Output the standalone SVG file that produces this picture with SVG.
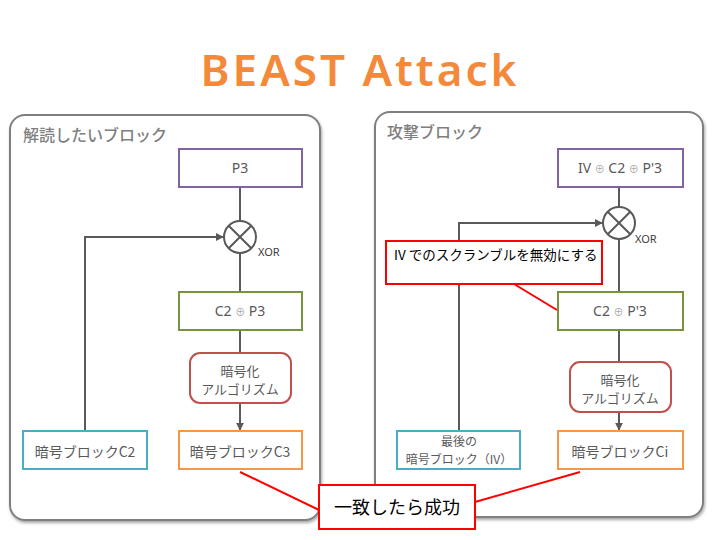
<svg xmlns="http://www.w3.org/2000/svg" width="720" height="540" viewBox="0 0 720 540">
<defs>
<filter id="sh" x="-5%" y="-5%" width="110%" height="110%">
<feDropShadow dx="1" dy="2" stdDeviation="1.5" flood-color="#000" flood-opacity="0.35"/>
</filter>
<marker id="ar" viewBox="0 0 10 10" refX="9" refY="5" markerWidth="4" markerHeight="4" orient="auto">
<path d="M0,0 L10,5 L0,10 z" fill="#595959"/>
</marker>
</defs>
<style>
.panel{fill:#fff;stroke:#7f7f7f;stroke-width:2}
.ptitle{font-family:"Noto Sans CJK JP",sans-serif;font-size:16px;fill:#7f7f7f;font-weight:500}
.box{fill:#fff;stroke-width:2}
.t{font-family:"Noto Sans","Noto Sans CJK JP",sans-serif;font-size:14px;fill:#595959;text-anchor:middle}
.tj{font-family:"Noto Sans CJK JP",sans-serif;font-size:14px;fill:#595959;text-anchor:middle}
.tj2{font-family:"Noto Sans CJK JP",sans-serif;font-size:13px;fill:#595959;text-anchor:middle}
.tj3{font-family:"Noto Sans CJK JP",sans-serif;font-size:12px;fill:#595959;text-anchor:middle}
.op{font-size:10px;fill:#a6a6a6}
.ln{stroke:#595959;stroke-width:2;fill:none}
.red{stroke:#ff0000;stroke-width:2;fill:none}
.xor{font-family:"Noto Sans",sans-serif;font-size:11px;fill:#404040}
</style>
<text x="360" y="86" text-anchor="middle" font-family="Noto Sans, sans-serif" font-weight="600" font-size="44" letter-spacing="3" fill="#f4893a">BEAST Attack</text>

<g id="panel-left">
<rect class="panel" x="10" y="115" width="310" height="405" rx="15" filter="url(#sh)"/>
<text class="ptitle" x="23" y="141">解読したいブロック</text>
</g>
<g id="panel-right">
<rect class="panel" x="375" y="112" width="328" height="405" rx="15" filter="url(#sh)"/>
<text class="ptitle" x="387" y="138">攻撃ブロック</text>
</g>

<g id="connectors">
<line class="ln" x1="240" y1="187" x2="240" y2="221"/>
<line class="ln" x1="240" y1="253" x2="240" y2="291"/>
<line class="ln" x1="240" y1="330" x2="240" y2="353"/>
<line class="ln" x1="240" y1="403" x2="240" y2="430" marker-end="url(#ar)"/>
<polyline class="ln" points="85,431 85,237 223,237" marker-end="url(#ar)"/>
<line class="ln" x1="619" y1="187" x2="619" y2="207"/>
<line class="ln" x1="619" y1="239" x2="619" y2="292"/>
<line class="ln" x1="619" y1="330" x2="619" y2="362"/>
<line class="ln" x1="619" y1="412" x2="619" y2="430" marker-end="url(#ar)"/>
<polyline class="ln" points="459,431 459,223 602,223" marker-end="url(#ar)"/>
<line class="red" x1="240" y1="472" x2="319" y2="510"/>
<line class="red" x1="580" y1="472" x2="475" y2="502"/>
<line class="red" x1="514" y1="284" x2="557" y2="310"/>
</g>

<g id="xor-left">
<circle cx="240" cy="237" r="16" fill="#fff" stroke="#595959" stroke-width="2"/>
<path d="M228.7,225.7 L251.3,248.3 M251.3,225.7 L228.7,248.3" stroke="#595959" stroke-width="2"/>
<text class="xor" x="258" y="256">XOR</text>
</g>
<g id="xor-right">
<circle cx="619" cy="223" r="16" fill="#fff" stroke="#595959" stroke-width="2"/>
<path d="M607.7,211.7 L630.3,234.3 M630.3,211.7 L607.7,234.3" stroke="#595959" stroke-width="2"/>
<text class="xor" x="635" y="243">XOR</text>
</g>

<g id="p3">
<rect class="box" x="179" y="149" width="123" height="38" stroke="#8064a2"/>
<text class="t" x="240" y="173">P3</text>
</g>
<g id="c2xp3">
<rect class="box" x="179" y="292" width="123" height="38" stroke="#77933c"/>
<text class="t" x="240" y="316">C2 <tspan class="op">⊕</tspan> P3</text>
</g>
<g id="enc-left">
<rect class="box" x="190" y="353" width="101" height="50" rx="10" stroke="#c0504d"/>
<text class="tj2" x="240" y="376">暗号化</text>
<text class="tj2" x="240" y="394">アルゴリズム</text>
</g>
<g id="c3">
<rect class="box" x="179" y="431" width="123" height="38" stroke="#f79646"/>
<text class="tj" x="240" y="457">暗号ブロックC3</text>
</g>
<g id="c2">
<rect class="box" x="23" y="431" width="124" height="38" stroke="#4bacc6"/>
<text class="tj" x="85" y="457">暗号ブロックC2</text>
</g>

<g id="ivc2p3">
<rect class="box" x="558" y="149" width="125" height="38" stroke="#8064a2"/>
<text class="t" x="620" y="173">IV <tspan class="op">⊕</tspan> C2 <tspan class="op">⊕</tspan> P'3</text>
</g>
<g id="c2xpp3">
<rect class="box" x="558" y="292" width="125" height="38" stroke="#77933c"/>
<text class="t" x="620" y="316">C2 <tspan class="op">⊕</tspan> P'3</text>
</g>
<g id="enc-right">
<rect class="box" x="570" y="362" width="101" height="50" rx="10" stroke="#c0504d"/>
<text class="tj2" x="620" y="385">暗号化</text>
<text class="tj2" x="620" y="403">アルゴリズム</text>
</g>
<g id="ci">
<rect class="box" x="558" y="431" width="125" height="38" stroke="#f79646"/>
<text class="tj" x="620" y="457">暗号ブロックCi</text>
</g>
<g id="iv">
<rect class="box" x="397" y="431" width="123" height="38" stroke="#4bacc6"/>
<text class="tj3" x="459" y="446">最後の</text>
<text class="tj3" x="459" y="464">暗号ブロック（IV）</text>
</g>

<g id="note-iv">
<rect x="386" y="241" width="216" height="43" fill="#fff" stroke="#ff0000" stroke-width="2"/>
<text x="394" y="260" font-family="Noto Sans CJK JP, sans-serif" font-size="13.5" fill="#000">IV でのスクランブルを無効にする</text>
</g>
<g id="note-match">
<rect x="319" y="485" width="156" height="44" fill="#fff" stroke="#ff0000" stroke-width="2"/>
<text x="397" y="514" text-anchor="middle" font-family="Noto Sans CJK JP, sans-serif" font-size="18" fill="#000">一致したら成功</text>
</g>
</svg>
